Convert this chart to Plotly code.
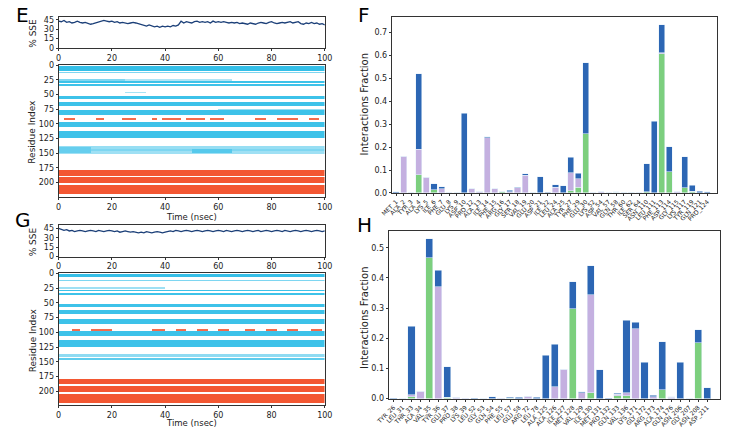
import numpy as np
import plotly.graph_objects as go

W, H = 733, 433

# ---------------- data ----------------
time_ns = list(range(0, 101))
sse_E = [43,42,44,41,42,40,41,43,41,40,41,
         39,38,39,40,41,42,44,43,42,43,
         41,42,40,41,40,39,40,41,40,39,
         38,37,35,37,36,34,35,33,35,34,
         35,34,36,35,37,43,40,42,41,40,
         42,43,41,42,41,42,40,43,41,42,
         41,42,41,40,41,40,41,39,40,39,
         38,40,39,38,40,41,40,39,41,42,
         40,39,40,41,40,41,42,40,41,42,
         39,38,40,39,41,39,40,38,39,37]
sse_G = [45,44,42,43,41,42,40,41,42,41,40,
         41,42,41,40,42,41,40,41,42,41,
         40,41,39,40,41,40,39,40,39,38,
         39,38,40,39,38,39,40,39,38,39,
         40,41,40,42,41,40,41,42,41,40,
         41,42,41,40,41,42,41,40,41,42,
         41,40,42,41,40,41,42,41,40,41,
         42,41,40,41,42,40,41,42,41,40,
         41,42,41,40,42,41,40,41,42,41,
         40,41,42,41,40,41,42,41,40,41]

# secondary-structure segments: (res_lo, res_hi, t_lo, t_hi, occupancy)
strand_E = [(3,9,0,100,1.0),(12,13,0,100,0.55),(24,26,0,25,0.55),(24,26,25,65,0.25),
            (28,30,0,100,0.95),(33,35,0,100,0.95),(47,48,25,33,0.3),(53,57,0,100,0.95),
            (63,69,0,100,0.95),(75,77,60,100,0.4),(78,85,0,100,0.95),(98,106,0,100,0.95),
            (113,124,0,100,0.95),(138,142,0,100,0.4),(143,147,0,100,0.55),(147,151,0,100,0.35),
            (140,150,0,12,0.7),(143,150,50,65,0.8)]
helix_E = [(91,93,2,6,0.8),(91,93,14,17,0.8),(91,93,24,29,0.8),(91,93,35,37,0.8),
           (91,93,39,46,0.8),(91,93,48,55,0.8),(91,93,57,62,0.8),(91,93,74,78,0.8),
           (91,93,82,90,0.8),(91,93,94,98,0.8),
           (180,188,0,100,0.95),(192,201,0,100,0.95),(205,220,0,100,0.95)]
strand_G = [(2,6,0,100,1.0),(12,13,0,100,0.55),(24,26,0,40,0.35),
            (28,30,0,100,0.95),(34,36,0,100,0.95),(52,57,0,100,0.95),
            (63,69,0,100,0.95),(78,85,0,100,0.95),(98,106,0,100,0.95),
            (113,124,0,100,0.95),(137,141,0,100,0.45),(145,147,0,100,0.75)]
helix_G = [(95,97,5,8,0.8),(95,97,12,20,0.8),(95,97,35,40,0.8),(95,97,44,48,0.8),
           (95,97,52,56,0.8),(95,97,60,64,0.8),(95,97,70,74,0.8),(95,97,78,82,0.8),
           (95,97,86,90,0.8),(95,97,95,99,0.8),
           (180,188,0,100,0.95),(192,201,0,100,0.95),(205,220,0,100,0.95)]

resF = ["MET_1","ALA_2","TYR_3","ALA_4","LYS_5","ILE_6","PHE_7","GLU_8","LYS_9","ASP_10",
        "PRO_12","ALA_13","ILE_14","PHE_15","ARG_16","GLY_17","SER_18","VAL_19","GLU_20","ASP_21",
        "ILE_22","LEU_24","ALA_25","TYR_27","PHE_29","GLU_30","LYS_52","ASP_54","VAL_57","GLN_58",
        "THR_60","ILE_62","SER_64","ASN_110","LEU_111","PHE_113","ASP_114","GLY_115","LYS_117","TYR_119",
        "GLN_121","PRO_124"]
hbF = [0,0,0,0.08,0,0.015,0,0,0,0, 0,0,0,0,0.005,0,0,0,0,0,
       0,0,0,0.01,0.025,0.258,0,0,0,0.003, 0,0.004,0,0.005,0,0.607,0.093,0,0.023,0.008, 0,0]
hyF = [0,0.16,0,0.11,0.068,0,0.018,0,0,0, 0.018,0.005,0.24,0.018,0,0.005,0.022,0.078,0,0,
       0,0.025,0,0.078,0.038,0,0,0.005,0,0, 0,0,0,0,0,0.003,0,0.005,0,0, 0,0]
wbF = [0.005,0,0,0.33,0,0.025,0.009,0,0,0.348, 0,0,0.005,0,0.001,0.008,0.002,0.005,0,0.07,
       0.004,0.01,0.032,0.067,0.022,0.309,0.001,0,0,0.003, 0,0,0,0.123,0.312,0.123,0.109,0,0.135,0.025, 0.007,0.005]

resH = ["TYR_26","LEU_31","THR_33","ALA_34","VAL_35","TYR_36","GLU_37","PRO_38","LYS_39","LEU_52",
        "GLY_53","GLN_54","PHE_55","LEU_57","GLU_58","ARG_72","LEU_78","ALA_125","ALA_126","ILE_127",
        "MET_128","VAL_129","ILE_130","MET_131","PRO_132","GLN_133","VAL_136","LYS_171","GLY_172","ARG_173",
        "ALA_174","GLN_176","ASN_206","GLY_207","ASN_208","ASP_211"]
hbH = [0,0,0.007,0,0.467,0,0.004,0,0,0, 0,0,0,0.002,0,0,0,0,0,0,
       0.298,0,0.02,0,0,0.01,0.01,0,0,0, 0.03,0,0,0,0.185,0]
hyH = [0,0,0.006,0.025,0,0.37,0,0.004,0.001,0, 0,0,0.001,0,0,0.008,0,0,0.04,0.098,
       0,0.02,0.325,0,0,0.005,0.01,0.232,0,0.006, 0,0.005,0,0,0,0]
wbH = [0.001,0,0.227,0,0.063,0.055,0.101,0,0,0.001, 0,0.007,0,0.003,0.004,0,0.004,0.143,0.14,0,
       0.089,0.002,0.095,0.095,0.001,0.003,0.24,0.021,0.121,0.005, 0.158,0.001,0.121,0,0.043,0.036]

# ---------------- styles ----------------
C_LINE = "#1b3f78"
C_CYAN = "#35bfe8"
C_RED = "#f2502a"
C_GREEN = "#7ccf7e"
C_PURPLE = "#c4b0e0"
C_BLUE = "#2c66b4"
FONT = "DejaVu Sans"

def fx(px): return px / W
def fy(py): return 1 - py / H

fig = go.Figure()

t_centers = np.arange(0, 100, 0.5) + 0.25
res_idx = np.arange(0, 225)

def grid(segs):
    z = np.full((len(res_idx), len(t_centers)), np.nan)
    for r0, r1, t0, t1, occ in segs:
        cols = (t_centers >= t0) & (t_centers <= t1)
        z[r0:r1 + 1, cols] = occ
    return z

def add_panel(sse, strands, helices, xa_s, ya_s, xa_h, ya_h):
    fig.add_trace(go.Scatter(x=time_ns, y=sse, mode="lines",
                             line=dict(color=C_LINE, width=1.3),
                             xaxis=xa_s, yaxis=ya_s, showlegend=False, hoverinfo="skip"))
    fig.add_trace(go.Heatmap(x=t_centers, y=res_idx, z=grid(strands), zmin=0, zmax=1,
                             colorscale=[[0, "#d8f2fb"], [1, C_CYAN]], showscale=False,
                             xaxis=xa_h, yaxis=ya_h, hoverinfo="skip"))
    fig.add_trace(go.Heatmap(x=t_centers, y=res_idx, z=grid(helices), zmin=0, zmax=1,
                             colorscale=[[0, "#fcd9d0"], [1, C_RED]], showscale=False,
                             xaxis=xa_h, yaxis=ya_h, hoverinfo="skip"))

add_panel(sse_E, strand_E, helix_E, "x", "y", "x2", "y2")
add_panel(sse_G, strand_G, helix_G, "x3", "y3", "x4", "y4")

def add_bars(labels, hb, hy, wb, xa, ya):
    for vals, col, name in [(hb, C_GREEN, "H-bonds"), (hy, C_PURPLE, "Hydrophobic"),
                            (wb, C_BLUE, "Water bridges")]:
        fig.add_trace(go.Bar(x=list(range(len(labels))), y=vals, marker=dict(color=col,
                             line=dict(color="rgba(230,240,250,0.9)", width=0.6)),
                             name=name, showlegend=False, xaxis=xa, yaxis=ya, hoverinfo="skip"))

add_bars(resF, hbF, hyF, wbF, "x5", "y5")
add_bars(resH, hbH, hyH, wbH, "x6", "y6")

tickfont = dict(family=FONT, size=8, color="#222")
common = dict(showline=True, linecolor="#333", linewidth=1, mirror=True, ticks="outside",
              ticklen=2, tickcolor="#333", showgrid=False, zeroline=False, tickfont=tickfont)

L, R = 47, 321
OFF = 213
HEAT_BOTTOM = 197
layout_axes = {}
for k, off in [(0, 0), (1, OFF)]:
    n1 = 2 * k + 1
    n2 = 2 * k + 2
    sx = "xaxis" if n1 == 1 else f"xaxis{n1}"
    sy = "yaxis" if n1 == 1 else f"yaxis{n1}"
    layout_axes[sx] = dict(domain=[fx(L), fx(R)], anchor=f"y{'' if n1 == 1 else n1}",
                           range=[0, 100], tickvals=[0, 20, 40, 60, 80, 100], **common)
    layout_axes[sy] = dict(domain=[fy(45 + off), fy(13 + off)], anchor=f"x{'' if n1 == 1 else n1}",
                           range=[0, 50], tickvals=[0, 15, 30, 45], **common)
    layout_axes[f"xaxis{n2}"] = dict(domain=[fx(L), fx(R)], anchor=f"y{n2}", range=[0, 100],
                                     tickvals=[0, 20, 40, 60, 80, 100], **common)
    layout_axes[f"yaxis{n2}"] = dict(domain=[fy(HEAT_BOTTOM + off), fy(62 + off)], anchor=f"x{n2}",
                                     range=[224.5, -0.5], tickvals=[0, 25, 50, 75, 100, 125, 150, 175, 200],
                                     **common)

xcat_font = dict(family=FONT, size=6, color="#222")
layout_axes["xaxis5"] = dict(domain=[fx(390), fx(725)], anchor="y5", range=[-0.55, 42.3],
                             tickvals=list(range(len(resF))), ticktext=resF, tickangle=-45,
                             **{**common, "tickfont": xcat_font})
layout_axes["yaxis5"] = dict(domain=[fy(193), fy(13)], anchor="x5", range=[0, 0.768],
                             tickvals=[0, 0.1, 0.2, 0.3, 0.4, 0.5, 0.6, 0.7], tickformat=".1f", **common)
layout_axes["xaxis6"] = dict(domain=[fx(386.7), fx(728)], anchor="y6", range=[-0.55, 36.45],
                             tickvals=list(range(len(resH))), ticktext=resH, tickangle=-45,
                             **{**common, "tickfont": xcat_font})
layout_axes["yaxis6"] = dict(domain=[fy(403), fy(232)], anchor="x6", range=[0, 0.555],
                             tickvals=[0, 0.1, 0.2, 0.3, 0.4, 0.5], tickformat=".1f", **common)

ann = []
def text(px, py, s, size, angle=0, color="#222"):
    ann.append(dict(x=fx(px), y=fy(py), xref="paper", yref="paper", text=s, showarrow=False,
                    textangle=angle, font=dict(family=FONT, size=size, color=color),
                    xanchor="center", yanchor="middle", borderpad=0))

text(10, 11, "E", 20, color="#000")
text(10, 221, "G", 20, color="#000")
text(361, 11, "F", 20, color="#000")
text(362, 226, "H", 20, color="#000")
for off, ty in [(0, 218), (OFF, 428)]:
    text(21, 30 + off, "% SSE", 9, -90)
    text(20, 130 + off, "Residue Index", 9, -90)
    text(184, ty, "Time (nsec)", 8.5)
text(362, 102, "Interactions Fraction", 10, -90)
text(362, 320, "Interactions Fraction", 10, -90)

fig.update_layout(width=W, height=H, margin=dict(l=0, r=0, t=0, b=0),
                  paper_bgcolor="white", plot_bgcolor="white", barmode="stack", bargap=0.2,
                  annotations=ann, **layout_axes)

fig.write_html("out.html")
